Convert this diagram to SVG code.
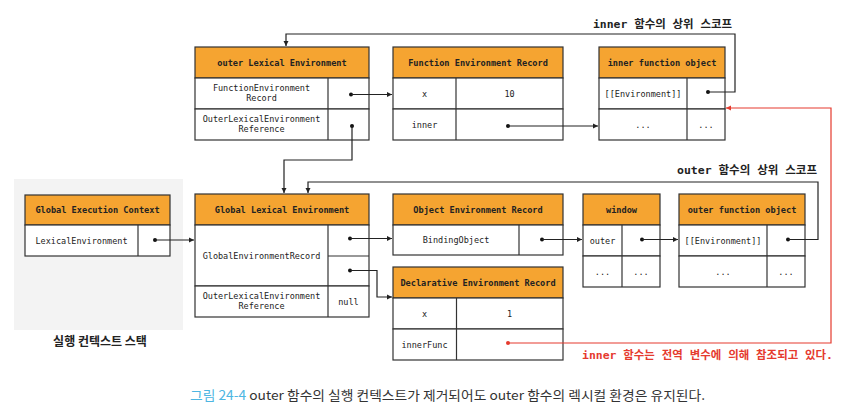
<svg xmlns="http://www.w3.org/2000/svg" width="860" height="416" viewBox="0 0 860 416">
<style>
.hd{fill:#F5A431;stroke:#333;stroke-width:1.2}
.bx{fill:#fff;stroke:#333;stroke-width:1.2}
.ln{stroke:#333;stroke-width:1.2;fill:none}
.ht{font-family:"DejaVu Sans Mono","Liberation Mono",monospace;font-size:8.6px;font-weight:bold;fill:#222;text-anchor:middle}
.t{font-family:"DejaVu Sans Mono","Liberation Mono",monospace;font-size:8.5px;fill:#222;text-anchor:middle}
.c{stroke:#222;stroke-width:1.2;fill:none}
.r{stroke:#E53A2E;stroke-width:1.2;fill:none}
.dot{fill:#111}
.rdot{fill:#E53A2E}
.lb{font-family:"DejaVu Sans Mono","Noto Sans CJK KR",monospace;font-size:11px;font-weight:bold;fill:#222}
</style>
<defs>
<marker id="a" markerWidth="6" markerHeight="6" refX="5" refY="3" orient="auto" markerUnits="userSpaceOnUse"><path d="M0,0.5 L5,3 L0,5.5 z" fill="#222"/></marker>
<marker id="ar" markerWidth="6" markerHeight="6" refX="5" refY="3" orient="auto" markerUnits="userSpaceOnUse"><path d="M0,0.5 L5,3 L0,5.5 z" fill="#E53A2E"/></marker>
</defs>
<rect width="860" height="416" fill="#fff"/>
<rect x="14" y="179" width="169" height="151" fill="#F3F3F3"/>

<g id="outer-lex-env">
<rect class="hd" x="195" y="47" width="174" height="31"/>
<text class="ht" x="282" y="65.5">outer Lexical Environment</text>
<rect class="bx" x="195" y="78" width="174" height="31"/>
<rect class="bx" x="195" y="109" width="174" height="31"/>
<line class="ln" x1="328" y1="78" x2="328" y2="140"/>
<text class="t" x="261.5" y="91">FunctionEnvironment</text>
<text class="t" x="261.5" y="101">Record</text>
<text class="t" x="261.5" y="122">OuterLexicalEnvironment</text>
<text class="t" x="261.5" y="132">Reference</text>
</g>

<g id="function-env-record">
<rect class="hd" x="393" y="47" width="170" height="31"/>
<text class="ht" x="478" y="65.5">Function Environment Record</text>
<rect class="bx" x="393" y="78" width="170" height="31"/>
<rect class="bx" x="393" y="109" width="170" height="31"/>
<line class="ln" x1="456" y1="78" x2="456" y2="140"/>
<text class="t" x="424.5" y="96.5">x</text>
<text class="t" x="509.5" y="96.5">10</text>
<text class="t" x="424.5" y="127.5">inner</text>
</g>

<g id="inner-function-object">
<rect class="hd" x="599" y="47" width="126" height="31"/>
<text class="ht" x="662" y="65.5">inner function object</text>
<rect class="bx" x="599" y="78" width="126" height="31"/>
<rect class="bx" x="599" y="109" width="126" height="31"/>
<line class="ln" x1="687" y1="78" x2="687" y2="140"/>
<text class="t" x="643" y="96.5">[[Environment]]</text>
<text class="t" x="643" y="127.5">...</text>
<text class="t" x="706" y="127.5">...</text>
</g>

<g id="global-execution-context">
<rect class="hd" x="25" y="195" width="145" height="30"/>
<text class="ht" x="97.5" y="213">Global Execution Context</text>
<rect class="bx" x="25" y="225" width="145" height="31"/>
<line class="ln" x1="138" y1="225" x2="138" y2="256"/>
<text class="t" x="81.5" y="243.5">LexicalEnvironment</text>
</g>

<g id="global-lex-env">
<rect class="hd" x="195" y="194" width="174" height="31"/>
<text class="ht" x="282" y="212.5">Global Lexical Environment</text>
<rect class="bx" x="195" y="225" width="174" height="61"/>
<rect class="bx" x="195" y="286" width="174" height="31"/>
<line class="ln" x1="328" y1="225" x2="328" y2="317"/>
<line class="ln" x1="328" y1="256" x2="369" y2="256"/>
<text class="t" x="261.5" y="258.5">GlobalEnvironmentRecord</text>
<text class="t" x="261.5" y="299">OuterLexicalEnvironment</text>
<text class="t" x="261.5" y="309">Reference</text>
<text class="t" x="348.5" y="304.5">null</text>
</g>

<g id="object-env-record">
<rect class="hd" x="393" y="194" width="170" height="31"/>
<text class="ht" x="478" y="212.5">Object Environment Record</text>
<rect class="bx" x="393" y="225" width="170" height="30"/>
<line class="ln" x1="519" y1="225" x2="519" y2="255"/>
<text class="t" x="456" y="243">BindingObject</text>
</g>

<g id="declarative-env-record">
<rect class="hd" x="393" y="267" width="170" height="31"/>
<text class="ht" x="478" y="285.5">Declarative Environment Record</text>
<rect class="bx" x="393" y="298" width="170" height="31"/>
<rect class="bx" x="393" y="329" width="170" height="31"/>
<line class="ln" x1="456.5" y1="298" x2="456.5" y2="360"/>
<text class="t" x="424.5" y="316.5">x</text>
<text class="t" x="509.5" y="316.5">1</text>
<text class="t" x="424.5" y="347.5">innerFunc</text>
</g>

<g id="window">
<rect class="hd" x="583" y="194" width="77" height="31"/>
<text class="ht" x="621.5" y="212.5">window</text>
<rect class="bx" x="583" y="225" width="77" height="31"/>
<rect class="bx" x="583" y="256" width="77" height="31"/>
<line class="ln" x1="622" y1="225" x2="622" y2="287"/>
<text class="t" x="602.5" y="243.5">outer</text>
<text class="t" x="602.5" y="274.5">...</text>
<text class="t" x="641" y="274.5">...</text>
</g>

<g id="outer-function-object">
<rect class="hd" x="679" y="194" width="126" height="31"/>
<text class="ht" x="742" y="212.5">outer function object</text>
<rect class="bx" x="679" y="225" width="126" height="31"/>
<rect class="bx" x="679" y="256" width="126" height="31"/>
<line class="ln" x1="767" y1="225" x2="767" y2="287"/>
<text class="t" x="723" y="243.5">[[Environment]]</text>
<text class="t" x="723" y="274.5">...</text>
<text class="t" x="786" y="274.5">...</text>
</g>

<g id="connectors">
<circle class="dot" cx="351" cy="94.5" r="2"/>
<path class="c" d="M351,94.5 H392" marker-end="url(#a)"/>
<circle class="dot" cx="508" cy="126" r="2"/>
<path class="c" d="M508,126 H598" marker-end="url(#a)"/>
<circle class="dot" cx="708" cy="92" r="2"/>
<path class="c" d="M708,92 H735 V34 H286 V46" marker-end="url(#a)"/>
<circle class="dot" cx="352" cy="126" r="2"/>
<path class="c" d="M352,126 V160 H284 V193" marker-end="url(#a)"/>
<circle class="dot" cx="155" cy="240" r="2"/>
<path class="c" d="M155,240 H194" marker-end="url(#a)"/>
<circle class="dot" cx="350" cy="238.5" r="2"/>
<path class="c" d="M350,238.5 H392" marker-end="url(#a)"/>
<circle class="dot" cx="350" cy="270.5" r="2"/>
<path class="c" d="M350,270.5 H377 V297 H392" marker-end="url(#a)"/>
<circle class="dot" cx="542" cy="239.5" r="2"/>
<path class="c" d="M542,239.5 H582" marker-end="url(#a)"/>
<circle class="dot" cx="642" cy="239.5" r="2"/>
<path class="c" d="M642,239.5 H678" marker-end="url(#a)"/>
<circle class="dot" cx="788" cy="239.5" r="2"/>
<path class="c" d="M788,239.5 H818 V182 H308 V193" marker-end="url(#a)"/>
<circle class="rdot" cx="508" cy="343" r="2"/>
<path class="r" d="M508,343 H831 V108 H726" marker-end="url(#ar)"/>
</g>

<text class="lb" x="593" y="28" textLength="139" lengthAdjust="spacingAndGlyphs">inner 함수의 상위 스코프</text>
<text class="lb" x="677" y="174" textLength="140" lengthAdjust="spacingAndGlyphs">outer 함수의 상위 스코프</text>
<text class="lb" x="582" y="359" textLength="251" lengthAdjust="spacingAndGlyphs" style="fill:#E53A2E">inner 함수는 전역 변수에 의해 참조되고 있다.</text>
<text x="100" y="346" text-anchor="middle" font-family="'Noto Sans CJK KR',sans-serif" font-size="12" font-weight="bold" fill="#222">실행 컨텍스트 스택</text>
<text x="190" y="400" font-family="'Noto Sans CJK KR',sans-serif" font-size="13" fill="#333" textLength="515" lengthAdjust="spacingAndGlyphs"><tspan fill="#4DB6E2">그림 24-4</tspan> outer 함수의 실행 컨텍스트가 제거되어도 outer 함수의 렉시컬 환경은 유지된다.</text>
</svg>
